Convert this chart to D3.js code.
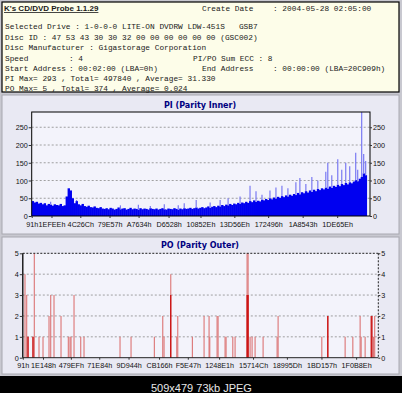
<!DOCTYPE html>
<html><head><meta charset="utf-8">
<script src="https://cdn.jsdelivr.net/npm/d3@7"></script>
<style>html,body{margin:0;padding:0;background:#000;} svg{display:block}</style>
</head><body>
<svg id="c" width="402" height="393"></svg>
<script>
// ---------- DATA ----------
const END_LBA = 0x20C909;
const AXIS_MAX_LBA = 2170000;

const headerTitle = "K's CD/DVD Probe 1.1.29";
const createDateLabel = "Create Date";
const createDateValue = ": 2004-05-28 02:05:00";
const driveLine = "Selected Drive : 1-0-0-0 LITE-ON DVDRW LDW-451S   GSB7";
const discIdLine = "Disc ID : 47 53 43 30 30 32 00 00 00 00 00 00 (GSC002)";
const manufLine = "Disc Manufacturer : Gigastorage Corporation";
const speedLabel = "Speed", speedValue = ": 4";
const sumEccLine = "PI/PO Sum ECC : 8";
const startLabel = "Start Address", startValue = ": 00:02:00 (LBA=0h)";
const endLabel = "End Address", endValue = ": 00:00:00 (LBA=20C909h)";
const piSummary = "PI Max= 293 , Total= 497840 , Average= 31.330";
const poSummary = "PO Max= 5 , Total= 374 , Average= 0.024";

const piTitle = "PI (Parity Inner)";
const poTitle = "PO (Parity Outer)";
const piYTicks = [0, 50, 100, 150, 200, 250];
const poYTicks = [0, 1, 2, 3, 4, 5];
const piXTickLabels = ["91h","1EFEEh","4C26Ch","79E57h","A7634h","D6528h","10852Eh","13D56Eh","172496h","1A8543h","1DE65Eh"];
const poXTickLabels = ["91h","1E148h","479EFh","71E84h","9D944h","CB166h","F5E47h","1248E1h","15714Ch","18995Dh","1BD157h","1F0B8Eh"];

// PI error counts per sample (evenly spaced samples over the scanned LBA range)
const piValues = [
 42,38,40,35,37, 33,36,30,34,32,29,33,31,30,34, 28,30, 55,78,72,50,
 36,42,33,30,34, 28,26,29,25,24,27,23,22,25,21,
 20,22,19,23,21,18,20,24,19,21,22,18,20,23,19,21,20,18,22,19,21,20,18,22,20,19,21,18,20,22,19,18,21,20,19,22,20,18,21,19,22,20,21,23,20,22,24,21,23,
 25,22,24,27,23,26,28,25,29,27,31,28,32,30,34,31,
 35,33,37,34,38,36,40,37,42,39,44,40,43,41,46,
 44,48,45,50,47,52,49,54,51,56,53,58,55,60,57,
 62,59,65,61,67,64,70,66,72,68,74,70,76,73,78,
 75,80,77,83,79,85,82,88,84,90,87,93,89,95,92,
 97,101,98,105,110,120,115
];
// PI peak spikes: sample index and peak value
const piSpikeIndex = [9,22,44,53,59,66,73,76,82,89,94,98,104,109,112,115,119,122,125,128,132,134,137,140,143,147,148,150,153,155,157,159,162,163,165,166,167];
const piSpikeValue = [40,45,30,32,28,33,30,36,45,38,45,50,55,85,70,60,72,80,85,78,95,107,90,110,100,125,150,115,160,130,150,140,178,130,293,175,155];

// PO errors: LBA position and count
const poLba = [13400,23800,31800,62300,70200,98900,123400,160000,170400,190500,233300,277800,288200,294300,312700,353600,373700,593500,660700,803000,854300,862200,903200,939800,945900,1035100,1106500,1137000,1141300,1185900,1192000,1234700,1240800,1281800,1295800,1369100,1375200,1387400,1399600,1417900,1466800,1552300,1558400,1825200,1861900,1967500,2014500,2059100,2065200,2089600,2124400,2130500,2140300,2148000];
const poValue = [4,3,1,1,5,1,1,2,3,3,2,1,1,1,3,1,1,1,1,1,2,1,4,1,2,1,2,2,1,2,2,1,1,1,1,5,5,1,1,1,1,1,2,1,2,1,1,2,1,1,2,2,1,2];
const poDarkLba = [31800,62300,903200,1369100,1375200,1861900,2130500];
const poDarkValue = [1,1,3,3,3,2,2];

const footerText = "509x479 73kb JPEG";

// ---------- DRAW ----------
const svg = d3.select("#c");
const mono = "'Liberation Mono','Courier New',monospace";
const sans = "'Liberation Sans',Arial,sans-serif";

svg.append("rect").attr("x",0).attr("y",0).attr("width",402).attr("height",393).attr("fill","#000");
svg.append("rect").attr("x",0).attr("y",0).attr("width",402).attr("height",376).attr("fill","#c8c8d0");

// header
svg.append("rect").attr("x",2).attr("y",2).attr("width",397).attr("height",90)
  .attr("fill","#fdfde9").attr("stroke","#000").attr("stroke-width",1.2);
const hdr = svg.append("g").attr("font-family",mono).attr("font-size","7.8px").attr("fill","#1a1a1a");
hdr.append("text").attr("x",4).attr("y",11).attr("font-family",sans)
  .attr("font-weight","bold").attr("font-size","8px").attr("text-decoration","underline").text(headerTitle);
const hl = [
  [202,11,createDateLabel],[273,11,createDateValue],
  [5,29,driveLine],[5,39.5,discIdLine],[5,50,manufLine],
  [5,60.5,speedLabel],[69,60.5,speedValue],[193,60.5,sumEccLine],
  [5,71,startLabel],[69,71,startValue],[202,71,endLabel],[273,71,endValue],
  [5,81.3,piSummary],[5,91,poSummary]
];
hl.forEach(d=>hdr.append("text").attr("x",d[0]).attr("y",d[1]).attr("xml:space","preserve").text(d[2]));

function panel(y0,h){
  svg.append("rect").attr("x",2).attr("y",y0).attr("width",397).attr("height",h)
    .attr("fill","#e9e9f3").attr("stroke","#a8a8b0").attr("stroke-width",1);
}
panel(95,139);
panel(237,137);

function styleAxis(g){
  g.select(".domain").remove();
  g.selectAll("text").attr("font-family",sans).attr("font-size","8px").attr("fill","#111")
    .each(function(){
      const w=this.getComputedTextLength();
      d3.select(this).attr("textLength",w*0.9).attr("lengthAdjust","spacingAndGlyphs");
    });
  g.selectAll("line").attr("stroke","#333");
}

// ---------- PI chart ----------
const piX0=31.7, piX1=370, piY0=112, piY1=216;
const xPI = d3.scaleLinear().domain([0,AXIS_MAX_LBA]).range([piX0,piX1]);
const yPI = d3.scaleLinear().domain([0,293]).range([piY1,piY0]);
svg.append("rect").attr("x",piX0).attr("y",piY0).attr("width",piX1-piX0).attr("height",piY1-piY0).attr("fill","#f3f3fb");
svg.append("text").attr("x",200).attr("y",108).attr("text-anchor","middle").attr("font-family","'DejaVu Sans',Verdana,sans-serif")
  .attr("font-weight","bold").attr("font-size","8px").attr("fill","#000080").text(piTitle);
piYTicks.filter(v=>v>0).forEach(v=>{
  svg.append("line").attr("x1",piX0).attr("x2",piX1).attr("y1",yPI(v)).attr("y2",yPI(v))
    .attr("stroke","#8a8a8a").attr("stroke-width",0.8).attr("stroke-dasharray","2,2");
});
const step = END_LBA/piValues.length;
const bw = xPI(step)-xPI(0);
svg.append("g").selectAll("rect").data(piValues).join("rect")
  .attr("x",(d,i)=>xPI(i*step)).attr("width",bw+0.4)
  .attr("y",d=>yPI(d)).attr("height",d=>yPI(0)-yPI(d)).attr("fill","#0000f0");
svg.append("g").selectAll("line").data(piSpikeIndex).join("line")
  .attr("x1",(d)=>xPI(d*step)+bw/2).attr("x2",(d)=>xPI(d*step)+bw/2)
  .attr("y1",(d)=>yPI(piValues[d])).attr("y2",(d,i)=>yPI(piSpikeValue[i]))
  .attr("stroke","#7a7af2").attr("stroke-width",1.2);
svg.append("rect").attr("x",piX0).attr("y",piY0).attr("width",piX1-piX0).attr("height",piY1-piY0)
  .attr("fill","none").attr("stroke","#000").attr("stroke-width",1);

svg.append("g").attr("transform",`translate(${piX0},0)`)
  .call(d3.axisLeft(yPI).tickValues(piYTicks).tickSize(3).tickPadding(1)).call(styleAxis);
svg.append("g").attr("transform",`translate(${piX1},0)`)
  .call(d3.axisRight(yPI).tickValues(piYTicks).tickSize(2).tickPadding(1)).call(styleAxis);
const piTickLba = piXTickLabels.map(s=>parseInt(s.slice(0,-1),16));
svg.append("g").attr("transform",`translate(0,${piY1})`)
  .call(d3.axisBottom(xPI).tickValues(piTickLba).tickFormat((d,i)=>piXTickLabels[i]).tickSize(2).tickPadding(3)).call(styleAxis);

// ---------- PO chart ----------
const poX0=22.8, poX1=378.3, poY0=253.3, poY1=357.7;
const xPO = d3.scaleLinear().domain([0,AXIS_MAX_LBA]).range([poX0,poX1]);
const yPO = d3.scaleLinear().domain([0,5]).range([poY1,poY0]);
svg.append("rect").attr("x",poX0).attr("y",poY0).attr("width",poX1-poX0).attr("height",poY1-poY0).attr("fill","#f3f3fb");
svg.append("text").attr("x",200).attr("y",248).attr("text-anchor","middle").attr("font-family","'DejaVu Sans',Verdana,sans-serif")
  .attr("font-weight","bold").attr("font-size","8px").attr("fill","#000080").text(poTitle);
poYTicks.filter(v=>v>0&&v<5).forEach(v=>{
  svg.append("line").attr("x1",poX0).attr("x2",poX1).attr("y1",yPO(v)).attr("y2",yPO(v))
    .attr("stroke","#8a8a8a").attr("stroke-width",0.8).attr("stroke-dasharray","2,2");
});
svg.append("g").selectAll("line").data(poLba).join("line")
  .attr("x1",d=>xPO(d)).attr("x2",d=>xPO(d)).attr("y1",yPO(0)).attr("y2",(d,i)=>yPO(poValue[i]))
  .attr("stroke","#dc7474").attr("stroke-width",1.1);
svg.append("g").selectAll("line").data(poDarkLba).join("line")
  .attr("x1",d=>xPO(d)).attr("x2",d=>xPO(d)).attr("y1",yPO(0)).attr("y2",(d,i)=>yPO(poDarkValue[i]))
  .attr("stroke","#c80000").attr("stroke-width",1.2);
// frame
svg.append("line").attr("x1",poX0).attr("x2",poX1).attr("y1",poY0).attr("y2",poY0).attr("stroke","#222").attr("stroke-dasharray","2,1.5");
svg.append("line").attr("x1",poX1).attr("x2",poX1).attr("y1",poY0).attr("y2",poY1).attr("stroke","#222").attr("stroke-dasharray","2,1.5");
svg.append("line").attr("x1",poX0).attr("x2",poX1).attr("y1",poY1).attr("y2",poY1).attr("stroke","#222");
svg.append("line").attr("x1",poX0).attr("x2",poX0).attr("y1",poY0).attr("y2",poY1).attr("stroke","#000").attr("stroke-width",1.3);

svg.append("g").attr("transform",`translate(${poX0},0)`)
  .call(d3.axisLeft(yPO).tickValues(poYTicks).tickFormat(d3.format("d")).tickSize(3).tickPadding(1)).call(styleAxis);
svg.append("g").attr("transform",`translate(${poX1},0)`)
  .call(d3.axisRight(yPO).tickValues(poYTicks).tickFormat(d3.format("d")).tickSize(2).tickPadding(1)).call(styleAxis);
const poTickLba = poXTickLabels.map(s=>parseInt(s.slice(0,-1),16));
svg.append("g").attr("transform",`translate(0,${poY1})`)
  .call(d3.axisBottom(xPO).tickValues(poTickLba).tickFormat((d,i)=>poXTickLabels[i]).tickSize(2).tickPadding(3)).call(styleAxis);

// footer
svg.append("text").attr("x",151).attr("y",392).attr("font-family",sans)
  .attr("font-size","11px").attr("fill","#e8e8e8").text(footerText);
</script></body></html>
